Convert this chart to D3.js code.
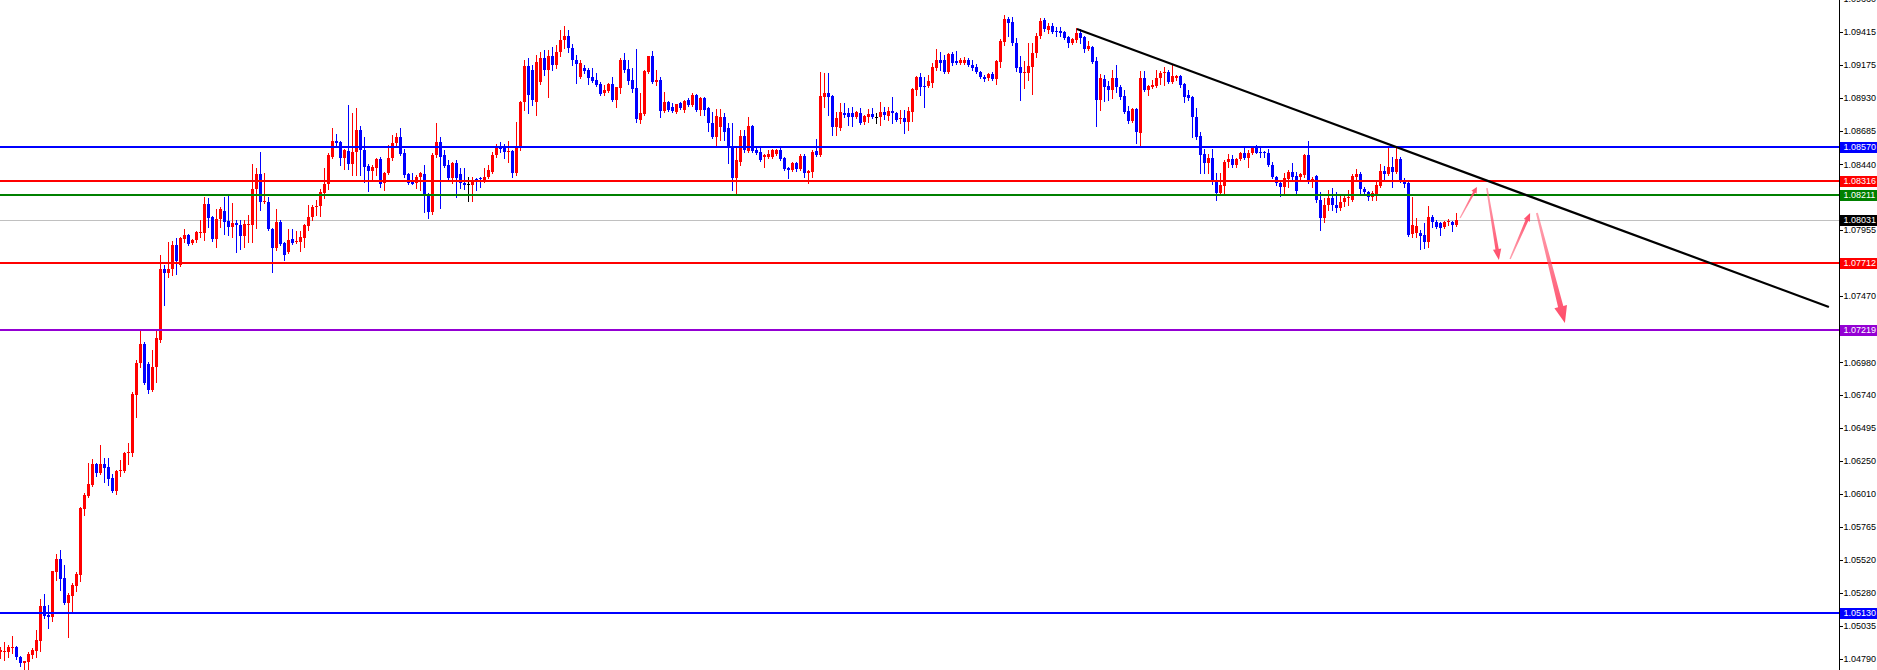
<!DOCTYPE html>
<html><head><meta charset="utf-8">
<script src="https://cdnjs.cloudflare.com/ajax/libs/d3/7.8.5/d3.min.js"></script>
<style>html,body{margin:0;padding:0;background:#fff;overflow:hidden}svg{display:block}</style>
</head><body>
<svg id="chart" width="1877" height="670"></svg>
<script>
// ---- Data (EURUSD-style candles, prices) ----
const opens = [
1.04842,1.04842,1.04842,1.04871,1.04879,1.04805,1.04761,1.04768,1.04820,1.04849,
1.04923,1.05181,1.05115,1.05100,1.05432,1.05528,1.05388,1.05203,1.05255,1.05329,
1.05410,1.05897,1.05993,1.06074,1.06229,1.06162,1.06229,1.06206,1.06125,1.06029,
1.06177,1.06177,1.06310,1.06310,1.06738,1.06974,1.07114,1.06966,1.06774,1.06944,
1.07143,1.07667,1.07637,1.07667,1.07844,1.07696,1.07888,1.07918,1.07859,1.07881,
1.07932,1.07932,1.08146,1.08050,1.07888,1.08036,1.08095,1.08021,1.07977,1.08006,
1.07991,1.07910,1.07991,1.07991,1.08257,1.08368,1.08161,1.08161,1.07962,1.07822,
1.08014,1.07859,1.07792,1.07888,1.07866,1.07866,1.07896,1.07984,1.08050,1.08124,
1.08132,1.08228,1.08294,1.08493,1.08611,1.08604,1.08486,1.08537,1.08441,1.08530,
1.08692,1.08545,1.08427,1.08390,1.08412,1.08478,1.08301,1.08375,1.08486,1.08596,
1.08641,1.08523,1.08368,1.08309,1.08301,1.08345,1.08368,1.08220,1.08087,1.08508,
1.08604,1.08508,1.08434,1.08338,1.08449,1.08368,1.08301,1.08294,1.08286,1.08331,
1.08338,1.08323,1.08345,1.08382,1.08508,1.08567,1.08559,1.08530,1.08537,1.08375,
1.08559,1.08899,1.09164,1.09135,1.08899,1.09046,1.09223,1.09135,1.09238,1.09172,
1.09267,1.09356,1.09385,1.09297,1.09208,1.09083,1.09149,1.09135,1.09083,1.09061,
1.09031,1.08965,1.08980,1.09031,1.08913,1.09002,1.09208,1.09142,1.09061,1.09002,
1.08766,1.08810,1.09120,1.09238,1.09046,1.09061,1.08832,1.08899,1.08862,1.08825,
1.08891,1.08840,1.08913,1.08877,1.08950,1.08840,1.08928,1.08854,1.08744,1.08641,
1.08714,1.08788,1.08707,1.08559,1.08338,1.08456,1.08648,1.08537,1.08722,1.08545,
1.08530,1.08493,1.08493,1.08493,1.08515,1.08545,1.08486,1.08412,1.08397,1.08449,
1.08404,1.08500,1.08375,1.08382,1.08537,1.08508,1.08936,1.08965,1.08943,1.08714,
1.08707,1.08818,1.08818,1.08818,1.08788,1.08818,1.08751,1.08788,1.08810,1.08788,
1.08788,1.08825,1.08795,1.08832,1.08818,1.08773,1.08781,1.08751,1.08825,1.08987,
1.09083,1.09017,1.09017,1.09039,1.09149,1.09208,1.09208,1.09120,1.09253,1.09201,
1.09186,1.09186,1.09208,1.09172,1.09157,1.09120,1.09083,1.09076,1.09105,1.09068,
1.09194,1.09341,1.09511,1.09489,1.09334,1.09157,1.09113,1.09113,1.09157,1.09260,
1.09385,1.09504,1.09430,1.09459,1.09422,1.09422,1.09415,1.09378,1.09334,1.09356,
1.09408,1.09378,1.09290,1.09304,1.09201,1.08913,1.09068,1.09017,1.08987,1.09076,
1.09009,1.08943,1.08832,1.08758,1.08847,1.08670,1.09076,1.08987,1.09009,1.09017,
1.09076,1.09113,1.09120,1.09046,1.09076,1.09090,1.09031,1.08950,1.08936,1.08788,
1.08648,1.08515,1.08449,1.08486,1.08323,1.08228,1.08279,1.08456,1.08478,1.08434,
1.08478,1.08523,1.08486,1.08523,1.08574,1.08530,1.08530,1.08523,1.08434,1.08345,
1.08301,1.08272,1.08331,1.08382,1.08353,1.08345,1.08360,1.08508,1.08309,1.08353,
1.08176,1.08043,1.08139,1.08191,1.08139,1.08117,1.08161,1.08191,1.08176,1.08345,
1.08368,1.08257,1.08235,1.08198,1.08220,1.08279,1.08390,1.08368,1.08419,1.08382,
1.08478,1.08323,1.08301,1.07925,1.07932,1.07932,1.07918,1.07866,1.08050,1.08014,
1.08006,1.07977,1.08014,1.08014,1.07991];
const highs = [
1.04879,1.04916,1.04894,1.04960,1.04886,1.04812,1.04775,1.04842,1.04871,1.05004,
1.05233,1.05270,1.05189,1.05439,1.05565,1.05594,1.05484,1.05277,1.05351,1.05432,
1.05911,1.06015,1.06236,1.06265,1.06236,1.06369,1.06273,1.06273,1.06155,1.06184,
1.06258,1.06317,1.06384,1.06760,1.06996,1.07217,1.07128,1.06981,1.07069,1.07217,
1.07770,1.07696,1.07866,1.07873,1.07896,1.07903,1.07962,1.07925,1.07888,1.07947,
1.08028,1.08198,1.08191,1.08058,1.08109,1.08124,1.08198,1.08205,1.08154,1.08028,
1.08028,1.08028,1.08065,1.08441,1.08412,1.08530,1.08375,1.08198,1.07969,1.08109,
1.08028,1.07866,1.07962,1.07962,1.07947,1.07947,1.07999,1.08139,1.08139,1.08176,
1.08257,1.08412,1.08523,1.08707,1.08663,1.08611,1.08552,1.08877,1.08818,1.08854,
1.08722,1.08641,1.08441,1.08434,1.08486,1.08493,1.08382,1.08582,1.08655,1.08670,
1.08707,1.08552,1.08375,1.08375,1.08360,1.08382,1.08434,1.08228,1.08523,1.08744,
1.08641,1.08545,1.08471,1.08456,1.08471,1.08412,1.08412,1.08345,1.08345,1.08338,
1.08345,1.08412,1.08434,1.08530,1.08589,1.08604,1.08589,1.08611,1.08545,1.08751,
1.08906,1.09208,1.09223,1.09172,1.09245,1.09267,1.09282,1.09282,1.09304,1.09319,
1.09430,1.09459,1.09430,1.09327,1.09245,1.09208,1.09172,1.09149,1.09149,1.09113,
1.09046,1.09024,1.09039,1.09083,1.09009,1.09223,1.09260,1.09208,1.09149,1.09290,
1.08965,1.09135,1.09238,1.09275,1.09135,1.09083,1.08972,1.08906,1.08891,1.08884,
1.08899,1.08913,1.08928,1.08965,1.08958,1.08936,1.08936,1.08862,1.08825,1.08847,
1.08847,1.08818,1.08744,1.08744,1.08567,1.08692,1.08692,1.08788,1.08729,1.08574,
1.08567,1.08515,1.08545,1.08552,1.08552,1.08567,1.08493,1.08419,1.08456,1.08456,
1.08515,1.08515,1.08397,1.08545,1.08626,1.09120,1.09113,1.09113,1.08950,1.08825,
1.08891,1.08891,1.08854,1.08862,1.08832,1.08854,1.08803,1.08847,1.08854,1.08818,
1.08899,1.08862,1.08862,1.08936,1.08825,1.08840,1.08840,1.08862,1.09002,1.09090,
1.09113,1.09083,1.09098,1.09186,1.09290,1.09267,1.09245,1.09260,1.09267,1.09275,
1.09223,1.09231,1.09223,1.09208,1.09179,1.09127,1.09098,1.09113,1.09120,1.09208,
1.09363,1.09540,1.09526,1.09526,1.09371,1.09238,1.09201,1.09334,1.09334,1.09408,
1.09518,1.09518,1.09481,1.09481,1.09452,1.09452,1.09422,1.09385,1.09371,1.09445,
1.09437,1.09385,1.09349,1.09312,1.09231,1.09105,1.09098,1.09054,1.09135,1.09172,
1.09024,1.08987,1.08869,1.08854,1.08854,1.09127,1.09127,1.09024,1.09061,1.09135,
1.09127,1.09157,1.09135,1.09172,1.09098,1.09098,1.09039,1.08987,1.08943,1.08854,
1.08677,1.08552,1.08515,1.08552,1.08375,1.08375,1.08471,1.08515,1.08508,1.08486,
1.08530,1.08574,1.08545,1.08574,1.08582,1.08567,1.08537,1.08552,1.08456,1.08353,
1.08323,1.08375,1.08397,1.08449,1.08382,1.08375,1.08515,1.08611,1.08345,1.08360,
1.08235,1.08191,1.08250,1.08264,1.08235,1.08205,1.08213,1.08250,1.08368,1.08404,
1.08382,1.08272,1.08242,1.08242,1.08323,1.08441,1.08427,1.08567,1.08493,1.08559,
1.08493,1.08338,1.08309,1.08198,1.08043,1.07955,1.08006,1.08132,1.08065,1.08028,
1.08014,1.08021,1.08036,1.08021,1.08080];
const lows = [
1.04798,1.04783,1.04805,1.04835,1.04790,1.04739,1.04716,1.04716,1.04798,1.04805,
1.04849,1.05093,1.05019,1.05071,1.05373,1.05299,1.05196,1.04953,1.05137,1.05292,
1.05366,1.05852,1.05985,1.06066,1.06140,1.06155,1.06096,1.06074,1.06022,1.06007,
1.06140,1.06170,1.06229,1.06288,1.06575,1.06944,1.06819,1.06752,1.06767,1.06833,
1.07128,1.07401,1.07608,1.07623,1.07630,1.07689,1.07866,1.07844,1.07851,1.07866,
1.07903,1.07881,1.07977,1.07873,1.07829,1.07977,1.07925,1.07918,1.07903,1.07792,
1.07814,1.07829,1.07866,1.07866,1.07969,1.08102,1.08154,1.07955,1.07645,1.07807,
1.07844,1.07733,1.07785,1.07851,1.07859,1.07800,1.07829,1.07955,1.08028,1.08065,
1.08058,1.08191,1.08257,1.08486,1.08567,1.08434,1.08404,1.08404,1.08360,1.08360,
1.08360,1.08309,1.08242,1.08323,1.08360,1.08272,1.08250,1.08368,1.08471,1.08567,
1.08508,1.08345,1.08294,1.08294,1.08264,1.08250,1.08087,1.08043,1.08072,1.08493,
1.08117,1.08419,1.08323,1.08301,1.08198,1.08264,1.08257,1.08168,1.08168,1.08250,
1.08272,1.08309,1.08338,1.08375,1.08493,1.08530,1.08486,1.08456,1.08345,1.08360,
1.08545,1.08840,1.08818,1.08877,1.08803,1.09031,1.09098,1.08936,1.09135,1.09149,
1.09238,1.09297,1.09267,1.09172,1.09039,1.09076,1.09113,1.09031,1.09046,1.09017,
1.08950,1.08950,1.08972,1.08906,1.08862,1.08965,1.09120,1.09031,1.08972,1.08751,
1.08744,1.08803,1.09113,1.09039,1.09024,1.08788,1.08825,1.08832,1.08825,1.08818,
1.08847,1.08825,1.08869,1.08869,1.08832,1.08803,1.08803,1.08685,1.08633,1.08582,
1.08618,1.08618,1.08449,1.08250,1.08228,1.08434,1.08530,1.08530,1.08530,1.08515,
1.08463,1.08419,1.08486,1.08486,1.08508,1.08471,1.08397,1.08338,1.08390,1.08390,
1.08397,1.08345,1.08301,1.08345,1.08500,1.08500,1.08862,1.08803,1.08655,1.08655,
1.08692,1.08788,1.08729,1.08722,1.08781,1.08736,1.08736,1.08751,1.08781,1.08744,
1.08729,1.08773,1.08766,1.08744,1.08758,1.08744,1.08670,1.08692,1.08758,1.08950,
1.08950,1.08862,1.09009,1.09009,1.09135,1.09135,1.09113,1.09113,1.09172,1.09179,
1.09179,1.09179,1.09164,1.09135,1.09113,1.09076,1.09054,1.09061,1.09061,1.09031,
1.09157,1.09319,1.09385,1.09319,1.09127,1.08913,1.09002,1.09061,1.08958,1.09231,
1.09371,1.09422,1.09408,1.09408,1.09385,1.09385,1.09363,1.09304,1.09327,1.09341,
1.09334,1.09267,1.09282,1.09186,1.08722,1.08840,1.08906,1.08913,1.08928,1.08972,
1.08921,1.08818,1.08744,1.08751,1.08596,1.08582,1.08980,1.08950,1.09002,1.09009,
1.09031,1.09024,1.09039,1.09039,1.09061,1.09009,1.08899,1.08913,1.08641,1.08626,
1.08375,1.08375,1.08375,1.08294,1.08176,1.08220,1.08228,1.08419,1.08419,1.08419,
1.08471,1.08478,1.08419,1.08515,1.08523,1.08493,1.08493,1.08427,1.08338,1.08286,
1.08205,1.08228,1.08272,1.08323,1.08228,1.08323,1.08345,1.08301,1.08272,1.08161,
1.07955,1.08014,1.08102,1.08102,1.08087,1.08102,1.08132,1.08139,1.08168,1.08323,
1.08228,1.08228,1.08176,1.08176,1.08176,1.08272,1.08323,1.08360,1.08272,1.08375,
1.08309,1.08272,1.07910,1.07903,1.07903,1.07814,1.07822,1.07829,1.07977,1.07969,
1.07918,1.07969,1.07991,1.07947,1.07984];
const closes = [
1.04857,1.04849,1.04879,1.04879,1.04805,1.04761,1.04775,1.04827,1.04857,1.04930,
1.05181,1.05107,1.05100,1.05439,1.05528,1.05380,1.05203,1.05262,1.05336,1.05417,
1.05904,1.06000,1.06081,1.06229,1.06162,1.06229,1.06199,1.06118,1.06029,1.06177,
1.06184,1.06310,1.06317,1.06745,1.06974,1.07114,1.06826,1.06774,1.06944,1.07158,
1.07667,1.07637,1.07667,1.07844,1.07726,1.07896,1.07918,1.07851,1.07881,1.07940,
1.07940,1.08146,1.08043,1.07888,1.08036,1.08109,1.08014,1.07977,1.08006,1.07991,
1.07910,1.07999,1.07999,1.08257,1.08368,1.08161,1.08168,1.07962,1.07822,1.08014,
1.07851,1.07770,1.07881,1.07859,1.07873,1.07903,1.07991,1.08050,1.08124,1.08132,
1.08235,1.08294,1.08508,1.08611,1.08596,1.08486,1.08545,1.08441,1.08530,1.08692,
1.08545,1.08419,1.08390,1.08419,1.08478,1.08294,1.08375,1.08486,1.08596,1.08641,
1.08515,1.08360,1.08301,1.08294,1.08345,1.08375,1.08220,1.08087,1.08508,1.08604,
1.08493,1.08427,1.08338,1.08449,1.08338,1.08301,1.08286,1.08294,1.08323,1.08323,
1.08331,1.08345,1.08397,1.08508,1.08567,1.08552,1.08530,1.08537,1.08375,1.08559,
1.08899,1.09164,1.08950,1.08913,1.09194,1.09223,1.09135,1.09238,1.09172,1.09267,
1.09356,1.09385,1.09297,1.09208,1.09179,1.09186,1.09127,1.09076,1.09054,1.09024,
1.08958,1.08987,1.09031,1.08913,1.09009,1.09208,1.09135,1.09054,1.08995,1.08773,
1.08818,1.09127,1.09238,1.09046,1.09061,1.08832,1.08899,1.08840,1.08832,1.08884,
1.08854,1.08906,1.08877,1.08950,1.08840,1.08928,1.08840,1.08744,1.08641,1.08795,
1.08788,1.08677,1.08559,1.08338,1.08471,1.08648,1.08545,1.08722,1.08537,1.08523,
1.08471,1.08508,1.08515,1.08545,1.08545,1.08478,1.08404,1.08397,1.08449,1.08404,
1.08500,1.08375,1.08390,1.08530,1.08508,1.08943,1.08965,1.08936,1.08714,1.08781,
1.08825,1.08803,1.08788,1.08788,1.08825,1.08744,1.08795,1.08810,1.08788,1.08788,
1.08825,1.08803,1.08832,1.08818,1.08766,1.08781,1.08751,1.08832,1.08995,1.09083,
1.09009,1.09009,1.09054,1.09157,1.09208,1.09186,1.09120,1.09253,1.09186,1.09186,
1.09208,1.09208,1.09172,1.09149,1.09120,1.09083,1.09068,1.09105,1.09068,1.09201,
1.09349,1.09511,1.09481,1.09334,1.09149,1.09113,1.09120,1.09164,1.09260,1.09385,
1.09496,1.09437,1.09459,1.09415,1.09415,1.09408,1.09371,1.09334,1.09363,1.09408,
1.09371,1.09290,1.09312,1.09194,1.08913,1.09076,1.09009,1.08987,1.09076,1.09009,
1.08936,1.08825,1.08758,1.08847,1.08677,1.09076,1.08987,1.09017,1.09024,1.09076,
1.09113,1.09120,1.09046,1.09090,1.09090,1.09024,1.08936,1.08928,1.08788,1.08641,
1.08508,1.08449,1.08486,1.08323,1.08228,1.08286,1.08456,1.08478,1.08434,1.08478,
1.08523,1.08486,1.08523,1.08574,1.08523,1.08523,1.08523,1.08434,1.08345,1.08301,
1.08272,1.08338,1.08382,1.08345,1.08242,1.08368,1.08508,1.08309,1.08331,1.08176,
1.08043,1.08139,1.08191,1.08139,1.08117,1.08161,1.08191,1.08198,1.08353,1.08368,
1.08257,1.08235,1.08198,1.08228,1.08286,1.08390,1.08368,1.08419,1.08382,1.08478,
1.08316,1.08294,1.07918,1.07991,1.07984,1.07910,1.07866,1.08050,1.08014,1.07977,
1.07969,1.08014,1.08021,1.07991,1.08031];

// price axis tick labels
const tickValues = [1.09660,1.09415,1.09175,1.08930,1.08685,1.08440,1.07955,1.07470,1.06980,
  1.06740,1.06495,1.06250,1.06010,1.05765,1.05520,1.05280,1.05035,1.04790];
// horizontal levels
const levelPrices = [1.08570, 1.08316, 1.08211, 1.07712, 1.07219, 1.05130];
const levelColors = ["#0000ff", "#ff0000", "#008000", "#ff0000", "#9400d3", "#0000ff"];
const bidPrice = 1.08031;
// trend line: [bar index, price]
const trendStart = [269.1, 1.09437];
const trendEnd = [457.1, 1.07387];
// projected path arrows: [bar index, price]
const arrowFrom = [[364.9, 1.08043], [371.6, 1.08264], [377.4, 1.07741], [384.1, 1.08080]];
const arrowTo   = [[369.1, 1.08272], [374.6, 1.07733], [382.4, 1.08080], [391.1, 1.07268]];

// ---- Layout ----
const W = 1877, H = 670, AXIS_X = 1839;
const svg = d3.select("#chart");
const x = d3.scaleLinear().domain([-0.125, 459.625]).range([0, AXIS_X]);
const y = d3.scaleLinear().domain([1.04709, 1.09651]).range([H, 0]);
const FONT = "'Liberation Sans', Arial, sans-serif";
const FS = 9;

svg.append("rect").attr("width", W).attr("height", H).attr("fill", "#ffffff");

// bid line (behind candles)
svg.append("rect").attr("x", 0).attr("width", AXIS_X).attr("y", Math.round(y(bidPrice))).attr("height", 1)
  .attr("fill", "#c0c0c0").attr("shape-rendering", "crispEdges");

// candles
const idx = d3.range(closes.length);
const colorOf = i => closes[i] > opens[i] ? "#ff0000" : (closes[i] < opens[i] ? "#0000ff" : "#000000");
const cg = svg.append("g").attr("shape-rendering", "crispEdges");
cg.selectAll("rect.wick").data(idx).join("rect").attr("class", "wick")
  .attr("x", i => Math.floor(x(i)))
  .attr("y", i => Math.round(y(highs[i])))
  .attr("width", 1)
  .attr("height", i => Math.max(1, Math.round(y(lows[i])) - Math.round(y(highs[i])) + 1))
  .attr("fill", colorOf);
cg.selectAll("rect.body").data(idx).join("rect").attr("class", "body")
  .attr("x", i => Math.floor(x(i)) - 1)
  .attr("y", i => Math.round(y(Math.max(opens[i], closes[i]))))
  .attr("width", 3)
  .attr("height", i => Math.max(1, Math.round(y(Math.min(opens[i], closes[i]))) - Math.round(y(Math.max(opens[i], closes[i])))))
  .attr("fill", colorOf);

// level lines
svg.append("g").attr("shape-rendering", "crispEdges").selectAll("rect").data(levelPrices).join("rect")
  .attr("x", 0).attr("width", AXIS_X)
  .attr("y", d => Math.round(y(d)) - 1).attr("height", 2)
  .attr("fill", (d, i) => levelColors[i]);

// trend line
svg.append("line")
  .attr("x1", x(trendStart[0])).attr("y1", y(trendStart[1]))
  .attr("x2", x(trendEnd[0])).attr("y2", y(trendEnd[1]))
  .attr("stroke", "#000").attr("stroke-width", 2.2);

// arrows
const arrowShape = [[0.6, 1.1, 3.0, 6], [0.8, 1.7, 4.2, 11], [0.7, 1.5, 3.4, 8], [1.0, 2.7, 6.5, 17]];
const defs = svg.append("defs");
arrowFrom.forEach((f, k) => {
  const x0 = x(f[0]), y0 = y(f[1]), x1 = x(arrowTo[k][0]), y1 = y(arrowTo[k][1]);
  const dx = x1 - x0, dy = y1 - y0, L = Math.hypot(dx, dy);
  const ux = dx / L, uy = dy / L, nx = -uy, ny = ux;
  const [w0, w1, hw, hl] = arrowShape[k];
  const bx = x1 - ux * hl, by = y1 - uy * hl;
  const pts = [
    [x0 + nx * w0, y0 + ny * w0], [bx + nx * w1, by + ny * w1], [bx + nx * hw, by + ny * hw],
    [x1, y1], [bx - nx * hw, by - ny * hw], [bx - nx * w1, by - ny * w1], [x0 - nx * w0, y0 - ny * w0]];
  const gid = "ag" + k;
  const gr = defs.append("linearGradient").attr("id", gid).attr("gradientUnits", "userSpaceOnUse")
    .attr("x1", x0).attr("y1", y0).attr("x2", x1).attr("y2", y1);
  gr.append("stop").attr("offset", "0").attr("stop-color", "#ff5a72").attr("stop-opacity", 0.55);
  gr.append("stop").attr("offset", "1").attr("stop-color", "#ff4060").attr("stop-opacity", 0.95);
  svg.append("polygon").attr("points", pts.map(p => p.join(",")).join(" ")).attr("fill", `url(#${gid})`);
});

// axis
const axis = d3.axisRight(y).tickValues(tickValues).tickSize(3).tickSizeOuter(0).tickPadding(1)
  .tickFormat(d3.format(".5f"));
const ag = svg.append("g").attr("transform", `translate(${AXIS_X + 0.5},0)`).call(axis);
ag.select(".domain").attr("stroke", "#000").attr("d", `M0,0V${H}`);
ag.selectAll(".tick line").attr("stroke", "#000").attr("shape-rendering", "crispEdges");
ag.selectAll(".tick text").attr("fill", "#000").attr("font-family", FONT).attr("font-size", FS);

// price labels on the axis
const labelPrices = levelPrices.concat([bidPrice]);
const labelColors = levelColors.concat(["#000000"]);
const lg = svg.append("g");
labelPrices.forEach((p, i) => {
  const yc = Math.round(y(p));
  lg.append("rect").attr("x", AXIS_X + 1).attr("y", yc - 5).attr("width", W - AXIS_X).attr("height", 11)
    .attr("fill", labelColors[i]).attr("shape-rendering", "crispEdges");
  lg.append("text").attr("x", AXIS_X + 4.5).attr("y", yc).attr("dy", "0.36em")
    .attr("font-family", FONT).attr("font-size", FS).attr("fill", "#fff")
    .text(d3.format(".5f")(p));
});
</script>
</body></html>
